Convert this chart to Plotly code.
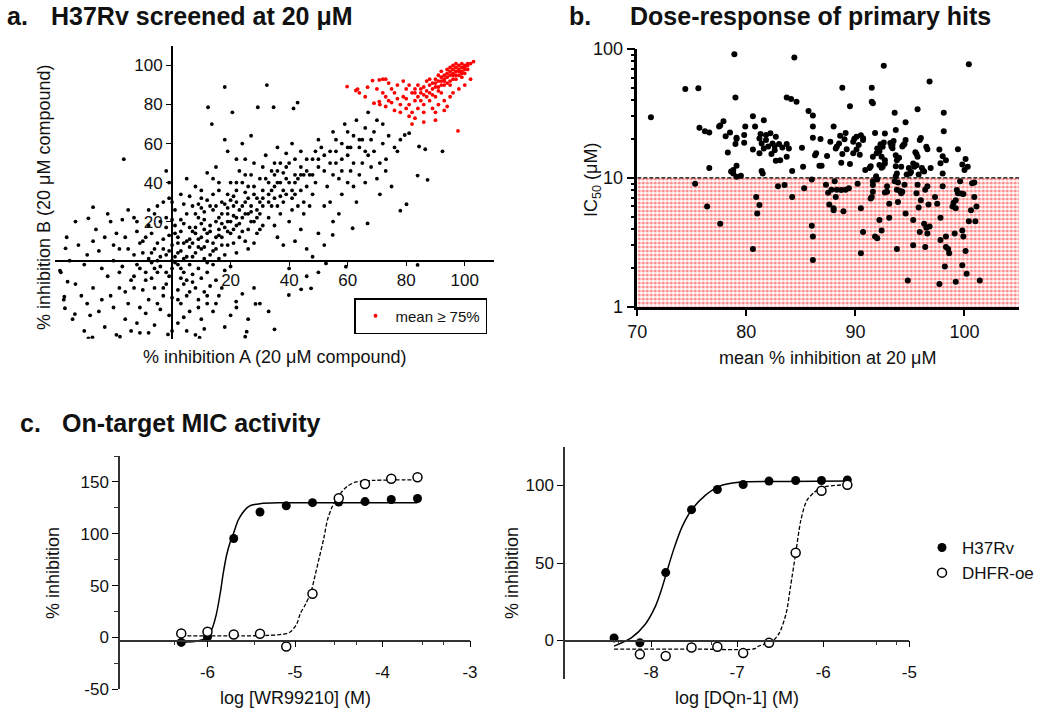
import plotly.graph_objects as go

FONT = "Liberation Sans, Arial, sans-serif"
W, H = 1050, 713

# ---------------- panel a: % inhibition in replicate A vs replicate B (20 uM)
screen_other = [
    (-2, 3), (1, -1), (3, 5), (5, 2), (-4, -3), (0, 8), (2, 12), (6, -2), (8, 4), (-6, 6), (4, -6), (-1, -8), (7, 9), (10, 6), (-8, 1), (3, 15), (9, -4), (12, 10), (-3, 11), (-9, -6),
    (1, 2), (-5, 0), (6, 7), (11, 1), (-2, -12), (14, 5), (4, 19), (-7, 14), (0, -4), (8, 14), (15, 12), (-10, 4), (2, -15), (5, 24), (17, 8), (-12, -2), (10, -9), (13, 18), (-4, 20), (7, -11),
    (16, 16), (-1, 5), (19, 20), (3, -9), (-6, -14), (12, -6), (-11, 9), (9, 22), (18, 3), (-3, -18), (6, 17), (14, -2), (-8, 18), (20, 14), (1, 26), (-14, -10), (11, 25), (22, 18), (-5, -22), (15, -10),
    (24, 22), (2, 9), (-9, 12), (13, 3), (5, -18), (21, 9), (-2, 17), (17, 24), (8, -14), (-13, 3), (26, 16), (10, 19), (-7, -9), (18, -5), (0, 21), (23, 26), (7, 2), (-4, -25), (16, 1), (4, 29),
    (25, 10), (-10, -15), (19, 27), (12, 31), (-15, 6), (3, -22), (28, 20), (9, 11), (-6, 24), (20, -3), (14, 26), (-1, -28), (6, 33), (27, 28), (-12, 15), (11, -16), (22, 4), (2, -2), (15, 20), (-3, 30),
    (29, 14), (-8, -20), (17, 12), (5, 10), (21, 23), (-11, -4), (10, 27), (24, 15), (-2, -6), (13, -13), (30, 24), (1, 14), (-16, -16), (8, 24), (18, 29), (-5, 9), (26, 6), (4, -12), (20, 31), (-9, -27),
    (7, 15), (12, -1), (-4, 2), (16, 22), (23, 12), (0, -19), (9, -20), (19, 8), (-13, -8), (14, 34), (31, 18), (3, 21), (-7, -1), (11, 7), (25, 30), (-17, -3), (6, -26), (17, -14), (28, 9), (-1, 32),
    (-3, 6), (2, 4), (4, 1), (6, 11), (-1, 13), (9, 7), (12, 14), (3, -4), (-5, -6), (7, -7), (10, 12), (14, 9), (16, 13), (18, 17), (20, 20), (22, 22), (1, 18), (-2, 22), (5, -10), (0, 0),
    (8, 17), (11, 21), (13, 15), (15, 6), (17, 19), (19, 15), (21, 16), (23, 19), (25, 24), (27, 25), (-6, -4), (-9, -10), (-7, 4), (-3, -14), (2, -20), (6, -16), (9, -24), (12, -18), (15, -22), (4, 9),
    (-10, 10), (-13, -14), (-15, -22), (-18, -6), (-20, 8), (-16, 12), (-12, 20), (-8, 26), (-5, 28), (0, 30), (3, 34), (7, 28), (10, 32), (13, 28), (16, 36), (19, 34), (22, 40), (25, 44), (28, 34), (31, 28),
    (-20, 0), (-22, -8), (-25, 5), (-18, -14), (-30, -2), (-27, 10), (-33, -12), (-24, -20), (-19, 14), (-35, 0), (-28, -28), (-21, 20), (-16, -30), (-31, -18), (-23, -34), (-26, 16), (-38, -6), (-14, -36), (-29, 3), (-17, 21),
    (-32, 8), (-20, -24), (-24, -4), (-34, -30), (-12, -32), (-22, 24), (-30, -36), (-15, 26), (-27, -14), (-19, -38), (-36, 12), (-25, -26), (-13, 22), (-21, -18), (-33, 20), (-18, 6), (-29, -22), (-23, 12), (-11, -24), (-37, -20),
    (2, -32), (5, -36), (10, -30), (14, -26), (18, -34), (22, -24), (8, -38), (12, -22), (20, -28), (26, -30), (-6, -33), (0, -36), (16, -18), (30, -22), (24, -17), (33, -26), (4, -29), (-8, -37), (28, -14), (11, -35),
    (22, 30), (25, 35), (28, 38), (30, 30), (32, 42), (34, 36), (36, 28), (38, 45), (40, 40), (42, 34), (44, 48), (46, 38), (48, 52), (35, 50), (33, 22), (37, 33), (41, 26), (39, 55), (43, 42), (45, 30),
    (27, 44), (29, 26), (31, 36), (24, 40), (26, 24), (34, 46), (36, 40), (38, 30), (40, 50), (42, 44), (44, 36), (47, 44), (49, 40), (50, 48), (30, 16), (35, 18), (40, 20), (45, 24), (23, 46), (28, 50),
    (32, 54), (36, 58), (41, 60), (25, 52), (20, 40), (22, 36), (38, 36), (43, 28), (46, 52), (48, 34), (37, 24), (33, 30), (39, 42), (41, 36), (44, 56), (47, 28), (29, 32), (31, 48), (35, 38), (49, 56),
    (21, 28), (26, 32), (34, 28), (27, 20), (39, 48), (42, 52), (45, 44), (30, 42), (36, 46), (41, 32),
    (33, 34), (35, 44), (37, 40), (39, 34), (42, 40), (44, 44), (46, 46), (48, 44), (50, 52), (52, 54), (54, 50), (56, 56), (58, 46), (60, 58), (62, 50), (64, 62), (66, 56), (33, 40), (35, 32), (37, 50),
    (26, 38), (24, 28), (29, 22), (31, 32), (21, 33), (19, 24), (17, 30), (15, 28), (11, 16), (9, 29),
    (52, 46), (54, 56), (56, 50), (58, 60), (60, 54), (62, 64), (64, 58), (66, 68), (68, 62), (70, 72), (53, 38), (57, 42), (61, 46), (65, 50), (69, 56), (72, 60), (55, 66), (59, 70), (63, 72), (67, 76),
    (51, 58), (56, 62), (60, 66), (64, 44), (68, 48), (71, 50), (74, 64), (76, 58), (78, 62), (73, 46), (58, 34), (62, 38), (66, 40), (70, 42), (54, 30), (52, 28), (57, 24), (63, 30), (75, 38), (77, 56),
    (50, 62), (61, 58), (65, 62), (69, 66), (58, 52), (67, 54), (72, 70), (55, 44), (60, 40), (71, 34),
    (18, 89), (32.4, 90), (12.3, 78.6), (13.6, 70), (20.6, 76), (29.3, 78.6), (34.7, 78.6), (41.5, 78), (42.9, 81), (-16.5, 52),
    (-27, 27.4), (-28.6, 21.7), (-36.4, 6.3), (-38.3, -5.1), (-36.8, -18.5), (-35.7, -10.8), (-36.6, -24.4), (-33.2, -27.4), (-28.6, -39.8), (-27.2, -39.3),
    (-17.8, -39), (-11, -37), (-1.4, -37.8), (9.4, -39.5), (25, -39), (25.5, -36.4), (35, -35.2), (28.5, -22.2), (21.9, -21), (83.9, -2.2),
    (92.4, 56), (87.3, 41.4), (83.9, 43.6), (80.1, 28.9), (78, 25.6), (66.8, 19.1), (61.7, 16.6), (54.9, 13.2), (59.4, -3.1), (52.6, -1.4),
    (47.5, -14.2), (44.1, -14.7), (39.9, -17.6), (81, 65.3), (79.5, 64.4), (86.5, 57.1), (84.4, 58.5), (73.1, 52),
    (18, 62), (15, 48), (22, 52), (24, 60), (27, 64), (19, 56), (12, 45), (16, 40), (8, 38), (5, 42), (-2, 46), (-1, 40), (10, 36), (14, 42),
    (42, 10), (46, 6), (50, 14), (48, 2), (44, 16), (38, 8), (52, 8), (55, 20), (36, 12), (40, -4), (46, -8), (50, -6),
]
screen_hits = [
    (100, 100), (101, 100), (99, 99), (102, 101), (98, 98), (100, 98), (97, 97), (99, 96), (101, 98), (96, 96), (95, 95), (97, 99), (94, 94), (98, 95), (100, 96), (103, 102), (96, 93), (93, 92), (95, 97), (92, 94),
    (99, 101), (97, 95), (94, 96), (91, 92), (93, 90), (96, 98), (98, 100), (90, 93), (92, 90), (95, 92), (89, 91), (97, 93), (100, 99), (94, 91), (91, 95), (88, 90), (93, 95), (99, 97), (96, 100), (90, 89),
    (87, 92), (92, 97), (95, 90), (98, 97), (89, 88), (86, 89), (94, 98), (97, 101), (91, 89), (88, 93), (85, 88), (93, 93), (101, 101), (96, 95), (90, 91), (87, 87), (84, 90), (99, 94), (92, 92), (95, 99),
    (86, 85), (84, 84), (82, 86), (80, 88), (83, 82), (81, 80), (79, 84), (85, 82), (88, 86), (78, 80), (76, 86), (74, 82), (77, 90), (80, 78), (82, 76), (84, 78), (86, 80), (88, 82), (90, 84), (92, 86),
    (83, 88), (81, 90), (79, 92), (75, 88), (73, 84), (72, 86), (70, 88), (71, 80), (73, 79), (76, 77), (78, 76), (81, 74), (83, 73), (86, 76), (89, 78), (91, 80), (93, 82), (95, 84), (90, 76), (94, 79),
    (87, 84), (85, 86), (89, 85), (91, 87), (83, 86), (80, 83), (77, 83), (75, 81), (74, 91), (72, 93),
    (59.8, 89.2), (62.8, 87.2), (63.4, 87.9), (66.8, 88.9), (68.5, 92.3), (70.8, 92.6), (73, 93), (69, 80.7), (70.8, 81.5), (97.7, 66.5),
    (66, 84), (64, 86), (82, 70), (86, 71), (90, 72), (93, 77), (96, 86), (98, 88), (100, 90), (102, 93),
]

# ---------------- panel b: mean % inhibition vs IC50 (uM) of primary hits
hit_dose = [
    (71.25, 29.5), (74.4, 49), (75.6, 49.5), (78.9, 91), (79.0, 42), (84.4, 86), (83.7, 42), (84.1, 41), (84.6, 39), (92.6, 74),
    (100.4, 76), (96.8, 56), (88.8, 50), (89.5, 36), (91.5, 50), (91.5, 39), (91.6, 38), (93.6, 32), (95.7, 34), (98.1, 32),
    (98.1, 23), (94.6, 27), (85.7, 33), (86.1, 30.5), (86.1, 25), (86.1, 20.5), (80.6, 30), (80.8, 25), (81.6, 28), (75.7, 24.5),
    (76.2, 23), (76.6, 22.5), (77.5, 25), (77.6, 25.5), (77.9, 27.5), (78.1, 21), (78.5, 22.5), (78.3, 15.7), (79.1, 20.5), (79.0, 18.3),
    (79.1, 20), (79.8, 21.5), (79.9, 25), (79.8, 18.7), (80.6, 16.6), (81.2, 15.5), (81.2, 20.2), (81.3, 21.9), (81.4, 18.5), (81.6, 16.9),
    (81.8, 19.7), (81.8, 21.5), (82.0, 17.5), (82.2, 22.2), (82.4, 18.5), (82.6, 17.7), (82.7, 20.8), (82.6, 16.4), (83.0, 18.3), (83.3, 17.2),
    (83.7, 14.6), (83.9, 16.9), (83.7, 18.3), (83.1, 13.7), (82.3, 15.3), (82.7, 13.6), (76.6, 11.9), (78.6, 11.2), (78.8, 10.8), (78.8, 11.5),
    (79.1, 10.2), (79.5, 10.4), (79.1, 12.4), (81.4, 11.3), (81.5, 10.8), (84.2, 11.3), (85.1, 17.1), (85.2, 12.2), (86.3, 15.0), (86.4, 15.5),
    (86.7, 12.4), (86.9, 12.4), (86.8, 20), (87.4, 14.8), (87.7, 19.1), (88.0, 25), (88.2, 16.9), (88.3, 17.5), (88.5, 18.5), (88.6, 21.2),
    (88.7, 13.1), (88.8, 15.3), (89.0, 19.9), (89.1, 22.3), (89.2, 16.7), (89.5, 12.8), (89.8, 19.1), (89.9, 20.1), (90.1, 20.8), (90.3, 18),
    (90.5, 21.4), (90.7, 19.7), (90.7, 20.3), (90.4, 15.1), (90.9, 11.5), (91.3, 11.9), (91.4, 12.3), (91.6, 14.6), (91.8, 22.3), (91.95, 15.5),
    (92.0, 16.9), (92.2, 16.1), (92.3, 18.2), (92.4, 14.6), (92.5, 17.4), (92.6, 18.8), (92.2, 12.6), (92.4, 12.0), (92.5, 12.2), (92.7, 12.9),
    (92.7, 13.7), (92.7, 22.1), (93.2, 18.6), (93.3, 17.5), (93.4, 18.1), (93.5, 19.3), (93.4, 17), (93.7, 15), (93.7, 12.3), (93.8, 13.7),
    (93.7, 23.5), (93.8, 10.8), (94.0, 14.3), (94.2, 12.2), (94.3, 17.5), (94.4, 18), (94.5, 18.3), (94.6, 19.7), (94.7, 10.6), (94.9, 11.9),
    (95.0, 10.8), (95.1, 11.1), (95.3, 12.9), (95.4, 12.2), (95.6, 12.5), (95.5, 15.8), (95.6, 15.3), (95.7, 14.6), (95.8, 10.6), (95.9, 19.7),
    (96.0, 20.4), (96.1, 11.9), (96.2, 11.4), (96.3, 11.2), (96.5, 17.4), (96.6, 16.7), (96.9, 11.9), (97.7, 16.6), (97.8, 13), (98.0, 14.7),
    (98.0, 10.8), (99.4, 16.7), (99.8, 12.7), (100.0, 11.5), (100.1, 14), (100.3, 12.2), (98.3, 13.7), (90.1, 16.6), (89.8, 15.5),
    (75.3, 9.0), (76.4, 6.0), (77.6, 4.4), (80.9, 7.1), (81.2, 6.15), (81.0, 5.3), (80.6, 2.8), (82.9, 8.6), (83.5, 8.8), (84.2, 7.1),
    (85.3, 8.3), (86.0, 9.7), (86.0, 4.25), (86.1, 3.5), (86.1, 2.3), (87.3, 8.85), (87.5, 7.65), (87.6, 6.2), (88.0, 5.8), (88.0, 5.6),
    (87.8, 8.1), (88.1, 9.4), (88.2, 7.1), (88.3, 8.1), (88.7, 8.05), (89.1, 8.1), (89.4, 8.3), (88.9, 5.5), (90.2, 9.0), (90.5, 5.8),
    (90.7, 3.8), (90.5, 2.6), (91.5, 7.1), (91.4, 6.9), (91.6, 7.8), (91.6, 8.8), (91.6, 9.4), (91.9, 10.3), (92.0, 9.7), (91.8, 3.5),
    (92.0, 3.4), (92.2, 4.7), (92.4, 3.9), (92.7, 7.7), (92.9, 8.6), (92.9, 7.8), (93.1, 6.3), (93.1, 4.9), (93.6, 9.4), (93.7, 10.3),
    (93.9, 9.2), (93.8, 8.1), (94.1, 7.9), (93.9, 6.5), (93.8, 2.8), (94.2, 7.6), (94.3, 7.8), (94.5, 8.85), (94.6, 5.3), (94.8, 1.6),
    (95.3, 3.0), (95.3, 4.7), (95.7, 8.85), (95.6, 7.6), (95.8, 5.9), (95.9, 3.8), (96.0, 6.7), (96.4, 8.1), (96.6, 8.6), (96.3, 4.4),
    (96.5, 4.1), (96.6, 3.7), (96.4, 2.9), (96.8, 4.2), (96.7, 6.2), (97.3, 7.1), (97.5, 6.3), (97.8, 4.9), (97.8, 3.3), (97.7, 1.5),
    (98.0, 8.6), (98.2, 2.05), (98.3, 2.9), (98.5, 2.8), (98.3, 3.5), (98.6, 2.6), (98.9, 6.0), (99.0, 6.4), (99.2, 6.7), (99.1, 3.7),
    (99.2, 1.56), (99.2, 5.8), (99.3, 8.05), (99.4, 7.6), (99.7, 7.55), (99.9, 7.5), (99.8, 3.9), (99.9, 3.5), (99.8, 2.1), (100.1, 2.7),
    (100.2, 1.8), (100.4, 4.6), (100.6, 5.6), (100.7, 9.1), (100.9, 9.2), (100.9, 7.1), (101.0, 4.6), (101.1, 6.0), (101.4, 1.6), (99.6, 9.4),
]
ic50_cutoff = 10

# ---------------- panel c: MIC curves, H37Rv vs DHFR overexpressor
wr_logc = [-6.3, -6.0, -5.7, -5.4, -5.1, -4.8, -4.5, -4.2, -3.9, -3.6]
wr_h37rv = [-4.8, 0.5, 95.4, 121, 127, 130, 130.6, 131, 133, 134]
wr_dhfr = [3.9, 5.5, 2.9, 3.6, -8.7, 42.2, 134.2, 148, 153, 154.5]
wr_fit_h37rv_x = [-6.3, -6.15, -6.05, -6.0, -5.95, -5.9, -5.85, -5.82, -5.78, -5.74, -5.7, -5.65, -5.6, -5.55, -5.5, -5.4, -5.2, -4.5, -3.6]
wr_fit_h37rv_y = [-4.5, -4, -2, 1, 8, 22, 45, 62, 80, 92, 101, 113, 120, 125, 127.5, 129, 129.8, 130, 130]
wr_fit_dhfr_x = [-6.3, -5.6, -5.3, -5.15, -5.06, -4.98, -4.94, -4.88, -4.82, -4.77, -4.72, -4.67, -4.63, -4.58, -4.52, -4.46, -4.4, -4.3, -4.1, -3.6]
wr_fit_dhfr_y = [1.5, 1.5, 2, 3, 5, 13, 23, 32, 43, 60, 78, 96, 113, 125, 134, 141, 146, 150, 151.5, 152]

dq_logc = [-8.43, -8.13, -7.83, -7.53, -7.23, -6.93, -6.63, -6.32, -6.02, -5.72]
dq_h37rv = [1.7, -1.5, 43.8, 84.4, 97.4, 100.6, 102.8, 103.2, 103.2, 103.6]
dq_dhfr = [None, -8.8, -10, -4.5, -4, -8.1, -1.5, 56.6, 96.6, 100.4]
dq_fit_h37rv_x = [-8.43, -8.23, -8.07, -7.95, -7.88, -7.82, -7.74, -7.64, -7.52, -7.37, -7.21, -6.98, -6.43, -5.71]
dq_fit_h37rv_y = [-3.6, 1.7, 10.3, 22, 32.7, 43.8, 58.3, 73.3, 85, 93.6, 99.4, 102, 102.6, 102.8]
dq_fit_dhfr_x = [-8.43, -7.5, -6.8, -6.75, -6.59, -6.51, -6.43, -6.38, -6.32, -6.26, -6.19, -6.10, -6.0, -5.71]
dq_fit_dhfr_y = [-5.5, -5.5, -5.3, -3.6, -0.4, 4.9, 17.7, 34.8, 56.2, 77.6, 90.4, 95.7, 98.9, 100.6]


def px(x):
    return x / W


def py(y):
    return 1 - y / H


def frac(v, lo, hi):
    return (v - lo) / (hi - lo)


def hyphen_labels(vals):
    # GraphPad prints a plain hyphen, not plotly's unicode minus
    return [str(v) for v in vals]


fig = go.Figure()

# panel a
ox, oy = zip(*screen_other)
hx, hy = zip(*screen_hits)
fig.add_trace(go.Scatter(x=ox, y=oy, mode="markers", marker=dict(color="black", size=3.8),
                         showlegend=False, xaxis="x", yaxis="y"))
fig.add_trace(go.Scatter(x=hx, y=hy, mode="markers", marker=dict(color="#ff0000", size=3.8),
                         name="mean \u2265 75%", legend="legend", xaxis="x", yaxis="y"))

# panel b
bx, by = zip(*hit_dose)
fig.add_trace(go.Scatter(x=[70, 105, 105, 70, 70], y=[1, 1, ic50_cutoff, ic50_cutoff, 1],
                         mode="lines", line=dict(width=0), fill="toself",
                         fillpattern=dict(shape=".", fgcolor="#ff1a1a", bgcolor="white", size=4, solidity=0.5),
                         showlegend=False, hoverinfo="skip", xaxis="x2", yaxis="y2"))
fig.add_trace(go.Scatter(x=[70, 105], y=[ic50_cutoff, ic50_cutoff], mode="lines",
                         line=dict(color="black", width=1.2, dash="4px,2px"),
                         showlegend=False, xaxis="x2", yaxis="y2"))
fig.add_trace(go.Scatter(x=bx, y=by, mode="markers", marker=dict(color="black", size=6),
                         showlegend=False, xaxis="x2", yaxis="y2"))

# panel c
curve = dict(color="black", width=1.5)
dash_curve = dict(color="black", width=1.3, dash="4px,2px")
filled = dict(color="black", size=9, symbol="circle")
hollow = dict(color="white", size=9, symbol="circle", line=dict(color="black", width=1.5))
for xa, ya, lc, s1, s2, f1x, f1y, f2x, f2y, leg in [
    ("x3", "y3", wr_logc, wr_h37rv, wr_dhfr, wr_fit_h37rv_x, wr_fit_h37rv_y, wr_fit_dhfr_x, wr_fit_dhfr_y, True),
    ("x4", "y4", dq_logc, dq_h37rv, dq_dhfr, dq_fit_h37rv_x, dq_fit_h37rv_y, dq_fit_dhfr_x, dq_fit_dhfr_y, False),
]:
    fig.add_trace(go.Scatter(x=f1x, y=f1y, mode="lines", line=curve, line_shape="spline",
                             line_smoothing=0.8, showlegend=False, xaxis=xa, yaxis=ya))
    fig.add_trace(go.Scatter(x=f2x, y=f2y, mode="lines", line=dash_curve, line_shape="spline",
                             line_smoothing=0.8, showlegend=False, xaxis=xa, yaxis=ya))
    fig.add_trace(go.Scatter(x=lc, y=s1, mode="markers", marker=filled, name="H37Rv",
                             legend="legend2", showlegend=leg, xaxis=xa, yaxis=ya))
    fig.add_trace(go.Scatter(x=lc, y=s2, mode="markers", marker=hollow, name="DHFR-oe",
                             legend="legend2", showlegend=leg, xaxis=xa, yaxis=ya))

tick_font = dict(family=FONT, size=17, color="#111")
common = dict(showgrid=False, zeroline=False, showline=True, linecolor="black", automargin=False,
              ticks="outside", tickcolor="black", tickfont=tick_font)

a_dx = [px(55), px(494)]
a_dy = [py(338.7), py(46)]
b_dx = [px(637.3), px(1019)]
b_dy = [py(306.7), py(49)]
c1_dx = [px(120), px(470)]
c1_dy = [py(689.3), py(456)]
c2_dx = [px(565), px(909.3)]
c2_dy = [py(679.3), py(446.7)]

c1_xt = [-6, -5, -4, -3]
c1_yt = [-50, 0, 50, 100, 150]
c2_xt = [-8, -7, -6, -5]

fig.update_layout(
    width=W, height=H, margin=dict(l=0, r=0, t=0, b=0, autoexpand=False),
    paper_bgcolor="white", plot_bgcolor="white",
    font=dict(family=FONT, color="#111"),
    xaxis=dict(common, domain=a_dx, range=[-40, 110], anchor="free",
               position=a_dy[0] + frac(0, -40, 110) * (a_dy[1] - a_dy[0]),
               tickvals=[20, 40, 60, 80, 100], ticklen=4, linewidth=2),
    yaxis=dict(common, domain=a_dy, range=[-40, 110], anchor="free",
               position=a_dx[0] + frac(0, -40, 110) * (a_dx[1] - a_dx[0]),
               tickvals=[20, 40, 60, 80, 100], ticklen=5, linewidth=2),
    xaxis2=dict(common, domain=b_dx, range=[70, 105], anchor="y2",
                tickvals=[70, 80, 90, 100], ticklen=7, linewidth=2.5, tickwidth=2,
                tickfont=dict(family=FONT, size=18, color="#111")),
    yaxis2=dict(common, domain=b_dy, type="log", range=[0, 2], anchor="x2",
                tickvals=[1, 10, 100], ticklen=8, linewidth=2.5, tickwidth=2,
                tickfont=dict(family=FONT, size=18, color="#111"),
                minor=dict(tickvals=[2, 3, 4, 5, 6, 7, 8, 9, 20, 30, 40, 50, 60, 70, 80, 90],
                           ticks="outside", ticklen=4, tickcolor="black", tickwidth=1.5)),
    xaxis3=dict(common, domain=c1_dx, range=[-7, -3], anchor="free",
                position=c1_dy[0] + frac(-3, -50, 175) * (c1_dy[1] - c1_dy[0]),
                tickvals=c1_xt, ticktext=hyphen_labels(c1_xt), ticklen=6, linewidth=1.5,
                linecolor="#333", ticklabelstandoff=10,
                minor=dict(tickvals=[-6.38, -5.46, -4.55, -4.3, -3.54, -3.3], ticks="outside",
                           ticklen=4, tickcolor="#333")),
    yaxis3=dict(common, domain=c1_dy, range=[-50, 175], anchor="x3",
                tickvals=c1_yt, ticktext=hyphen_labels(c1_yt), ticklen=6, linewidth=1.5,
                linecolor="#333",
                minor=dict(dtick=25, ticks="outside", ticklen=4, tickcolor="#333")),
    xaxis4=dict(common, domain=c2_dx, range=[-9, -5], anchor="free",
                position=c2_dy[0] + frac(0, -25, 125) * (c2_dy[1] - c2_dy[0]),
                tickvals=c2_xt, ticktext=hyphen_labels(c2_xt), ticklen=6, linewidth=1.5,
                linecolor="#333", ticklabelstandoff=10,
                minor=dict(tickvals=[-8.38, -7.3, -5.38, -5.15], ticks="outside",
                           ticklen=4, tickcolor="#333")),
    yaxis4=dict(common, domain=c2_dy, range=[-25, 125], anchor="x4",
                tickvals=[0, 50, 100], ticklen=6, linewidth=1.5, linecolor="#333"),
    legend=dict(x=px(354), y=py(298), xanchor="left", yanchor="top",
                bordercolor="black", borderwidth=1.5, bgcolor="white",
                font=dict(family=FONT, size=15, color="#111"), itemwidth=30),
    legend2=dict(x=px(922), y=py(530), xanchor="left", yanchor="top",
                 bgcolor="rgba(0,0,0,0)", font=dict(family=FONT, size=17, color="#111"),
                 tracegroupgap=0),
)

title_font = dict(family=FONT, size=25, color="#111")
label_font = dict(family=FONT, size=18, color="#111")
# (text, x px, y px, x anchor, y anchor, angle, font)
notes = [
    ("<b>a.</b>", 5, 0, "left", "top", 0, title_font),
    ("<b>H37Rv screened at 20 \u03bcM</b>", 49, 0, "left", "top", 0, title_font),
    ("<b>b.</b>", 567, 0, "left", "top", 0, title_font),
    ("<b>Dose-response of primary hits</b>", 628, 0, "left", "top", 0, title_font),
    ("<b>c.</b>", 18, 423, "left", "middle", 0, title_font),
    ("<b>On-target MIC activity</b>", 60, 423, "left", "middle", 0, title_font),
    ("% inhibition A (20 \u03bcM compound)", 275, 357, "center", "middle", 0, label_font),
    ("% inhibition B (20 \u03bcM compound)", 44, 197, "center", "middle", -90, label_font),
    ("mean % inhibition at 20 \u03bcM", 828, 358, "center", "middle", 0, label_font),
    ("IC<sub>50</sub> (\u03bcM)", 592, 180, "center", "middle", -90, label_font),
    ("% inhibition", 53, 573, "center", "middle", -90, label_font),
    ("log [WR99210] (M)", 295, 698, "center", "middle", 0, label_font),
    ("% inhibition", 512, 573, "center", "middle", -90, label_font),
    ("log [DQn-1] (M)", 737, 698, "center", "middle", 0, label_font),
]
for text, x, y, xanc, yanc, angle, f in notes:
    fig.add_annotation(text=text, x=px(x), y=py(y), xref="paper", yref="paper",
                       xanchor=xanc, yanchor=yanc, textangle=angle,
                       showarrow=False, font=f)

# drop the browser's default 8px body margin so the 1050x713 figure fills the window
fig.write_html("out.html", config={"displayModeBar": False},
               post_script="document.body.style.margin = '0';")
